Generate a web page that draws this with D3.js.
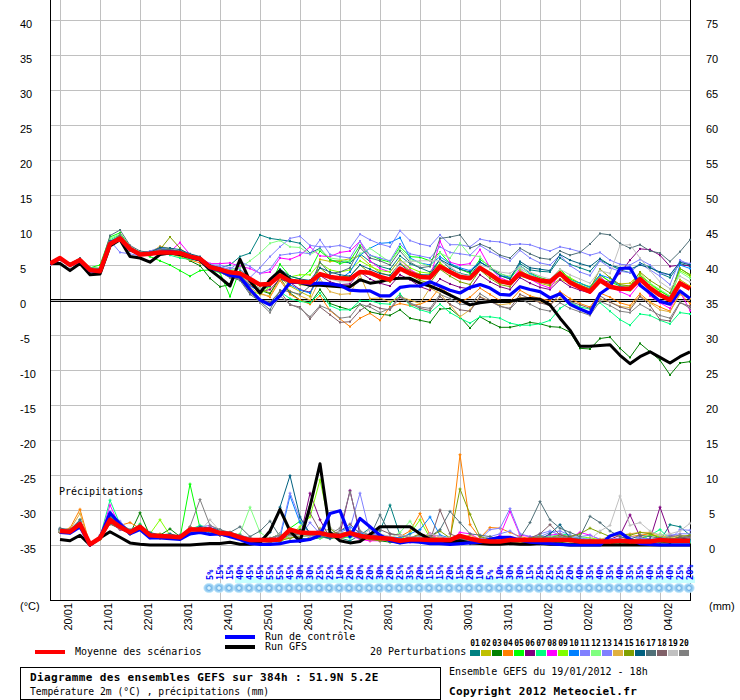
<!DOCTYPE html>
<html><head><meta charset="utf-8">
<script src="https://cdn.jsdelivr.net/npm/d3@7"></script>
<style>html,body{margin:0;padding:0;background:#fff;}svg{display:block;}</style>
</head><body>
<script>
// ---------- DATA ----------
const dayLabels = ["20/01","21/01","22/01","23/01","24/01","25/01","26/01","27/01","28/01","29/01","30/01","31/01","01/02","02/02","03/02","04/02"];
const leftTicks = [40,35,30,25,20,15,10,5,0,-5,-10,-15,-20,-25,-30,-35];
const rightTicks = [75,70,65,60,55,50,45,40,35,30,25,20,15,10,5,0];
const pertNames = ["01","02","03","04","05","06","07","08","09","10","11","12","13","14","15","16","17","18","19","20"];
const pertColors = ["#008080","#c0c000","#008000","#ff8000","#00ff00","#800080","#00ff80","#ff00ff","#80ff00","#0080ff","#8080ff","#80ff80","#8080ff","#e0b040","#80a000","#006080","#507078","#806068","#c0c0c0","#808080"];
const snowPct = [5,15,15,40,45,45,55,55,45,30,30,25,25,10,20,20,20,30,20,25,35,20,15,15,20,15,20,10,5,10,30,30,15,25,25,25,20,40,35,40,35,40,35,35,40,35,40,25,20];

// temperature 2m (°C), every 6 h from 19/01 18h (65 values)
const tempMean = [5.2,6.0,5.0,5.7, 4.3,4.1,8.0,8.8, 7.3,6.5,6.6,6.8, 6.8,6.7,6.2,5.9, 4.7,4.35,3.95,3.8, 3.0,2.2,2.3,3.5, 2.7,2.6,2.5,3.7, 3.3,3.1,3.0,4.0, 3.9,3.3,2.9,4.5, 3.8,3.3,3.2,4.8, 4.0,3.3,3.1,4.6, 3.7,2.7,2.4,3.8, 3.2,2.8,2.6,3.8, 2.5,1.8,1.2,2.8, 1.9,1.6,1.6,3.0, 1.7,0.7,0.0,2.4, 1.6];
const tempControl = [5.2,5.9,5.0,5.6, 4.2,4.1,8.1,8.7, 7.2,6.5,6.6,6.8, 6.9,6.7,6.1,5.8, 4.6,4.2,3.5,3.3, 1.5,0.0,-0.7,0.6, 2.5,2.5,2.3,2.4, 2.3,2.1,1.4,1.3, 1.3,0.6,0.6,1.8, 2.0,2.0,2.6,2.0, 1.4,1.0,1.8,2.2, 1.7,0.8,0.7,1.9, 1.5,1.2,0.3,0.9, -0.6,-1.3,-1.9,0.9, 1.9,4.5,4.6,2.1, 1.0,-0.2,-0.6,1.3, 0.2];
const tempGFS = [5.2,5.2,4.2,5.2, 3.6,3.7,7.7,8.6, 6.2,6.0,5.4,6.5, 6.7,6.5,6.1,5.7, 4.3,3.2,2.0,5.8, 2.7,1.0,2.9,4.2, 2.9,2.5,2.1,2.1, 2.0,1.9,1.9,2.9, 2.4,2.6,3.0,3.1, 3.1,2.4,2.0,1.4, 0.7,0.0,-0.7,-0.4, -0.2,-0.2,-0.2,0.1, 0.2,0.1,-0.7,-2.6, -4.3,-6.6,-6.6,-6.5, -6.4,-7.9,-9.1,-8.1, -7.4,-8.2,-9.0,-8.1, -7.4];
const tP01 = [5.3,6.0,5.1,5.8, 4.4,4.2,8.2,9.0, 7.4,6.6,6.7,7.0, 7.2,7.0,6.5,6.0, 5.0,4.6,5.0,6.2, 6.7,9.3,8.8,8.6, 8.4,8.1,6.7,7.4, 5.7,5.5,5.3,6.6, 5.5,4.8,4.4,6.3, 5.2,4.6,4.0,5.8, 4.5,3.8,3.5,5.4, 4.6,3.8,3.2,5.2, 4.3,4.1,4.0,6.0, 5.1,4.6,4.1,5.7, 5.0,4.3,3.9,5.3, 4.7,3.8,3.2,5.2, 4.8];
const tP02 = [5.1,5.9,5.0,5.6, 4.2,4.0,7.9,8.6, 7.2,6.4,6.6,7.2, 7.0,6.6,6.0,5.6, 4.6,4.2,3.8,3.9, 2.6,1.6,1.0,3.2, 2.0,1.2,0.5,5.8, 5.5,5.6,5.9,6.3, 5.0,3.9,3.5,5.3, 4.2,3.7,3.2,5.3, 3.9,3.2,3.0,4.4, 3.4,2.4,2.3,3.4, 3.0,2.4,2.0,3.0, 2.4,1.9,1.3,3.6, 2.6,2.3,2.4,3.8, 2.3,1.3,0.4,2.9, 2.0];
const tP03 = [5.2,5.9,4.9,5.7, 4.3,4.1,7.8,8.5, 7.1,6.4,6.6,6.9, 7.4,6.5,5.6,4.9, 3.1,1.9,2.2,4.2, 2.4,1.4,0.9,3.2, 1.0,0.0,-0.5,1.5, -0.5,-1.0,-1.4,-0.6, -1.7,-2.0,-2.2,-1.4, -2.6,-2.9,-3.2,-1.3, -1.2,-2.4,-4.0,-2.4, -3.2,-3.9,-3.9,-3.6, -3.2,-3.4,-3.8,-3.9, -4.6,-6.9,-7.0,-5.5, -5.3,-6.9,-8.2,-6.2, -7.4,-8.6,-10.7,-9.0, -8.8];
const tP04 = [5.3,6.1,5.2,5.9, 4.5,4.3,8.3,9.0, 7.5,6.7,6.8,7.4, 6.6,6.2,5.7,5.3, 4.5,4.0,3.4,3.6, 2.2,1.0,0.4,2.8, 0.8,0.0,-0.6,0.6, -1.5,-2.7,-3.8,-2.6, -1.9,-2.9,-1.0,-0.5, -0.8,-0.6,0.0,1.8, 0.8,-0.3,0.4,1.7, 0.8,-0.1,-0.2,1.4, 0.6,0.2,-0.1,1.2, 0.2,-0.5,-1.0,1.0, 0.4,-0.4,-0.8,0.9, -0.3,-1.0,-1.6,0.9, -0.5];
const tP05 = [5.2,6.0,5.0,5.8, 4.6,5.0,9.0,9.6, 7.6,6.8,6.2,5.6, 5.0,4.2,3.4,4.2, 4.3,3.9,0.5,4.4, 3.0,1.3,2.0,5.1, 3.4,3.0,4.2,7.0, 5.8,5.2,5.6,7.8, 6.4,5.8,5.4,7.6, 6.2,6.1,5.6,6.8, 5.2,4.4,3.8,5.8, 4.8,3.5,3.0,4.9, 3.9,3.2,2.8,4.4, 3.0,2.4,1.9,3.6, 2.6,2.0,2.0,3.5, 2.4,1.3,0.5,4.5, 3.6];
const tP06 = [5.1,5.9,4.9,5.6, 4.1,4.0,7.9,8.7, 7.3,6.4,6.5,6.7, 6.9,6.7,6.0,5.6, 4.4,4.1,3.7,3.4, 2.1,1.2,1.5,3.0, 2.5,1.5,1.1,3.5, 2.6,2.2,2.3,4.0, 3.0,2.4,2.0,3.6, 2.9,1.9,1.4,3.0, 2.3,1.8,1.6,3.6, 2.6,1.9,1.5,3.2, 2.4,1.8,1.5,2.9, 1.9,1.4,1.0,2.9, 2.5,3.8,5.7,7.3, 7.2,6.4,4.8,5.0, 4.9];
const tP07 = [5.4,6.1,5.1,5.9, 4.6,4.4,8.6,9.3, 7.5,6.8,6.9,7.0, 6.4,6.0,5.8,5.6, 4.4,4.0,3.2,3.0, 1.2,-0.2,-0.4,1.2, 0.2,-0.2,-0.4,1.0, -0.8,-1.4,-1.4,-0.1, -0.1,-0.5,-0.6,0.9, -0.8,-1.4,-1.8,-0.6, -1.8,-2.6,-3.3,-2.4, -2.4,-2.6,-3.3,-3.6, -3.6,-3.4,-2.9,-1.2, -0.3,-1.0,-1.3,-0.4, -1.6,-2.8,-3.6,-2.0, -2.2,-2.9,-3.4,-1.8, -2.0];
const tP08 = [5.3,6.0,5.0,5.7, 4.4,4.2,8.0,8.9, 7.4,6.6,6.6,7.3, 6.9,8.2,6.5,6.0, 5.2,5.2,5.3,4.8, 4.5,3.8,4.0,6.0, 5.8,6.4,7.6,6.3, 6.2,6.8,7.0,8.4, 5.6,4.5,4.0,5.8, 4.4,3.4,3.0,8.4, 5.4,5.0,5.2,7.2, 4.6,3.2,2.6,4.5, 3.0,2.2,1.7,3.8, 2.6,1.6,1.0,3.4, 2.0,1.2,0.6,2.4, 0.6,-0.4,-1.2,1.2, -1.5];
const tP09 = [5.2,6.0,5.0,5.7, 4.3,4.1,8.3,9.2, 7.5,6.7,6.7,6.9, 6.7,6.3,6.0,5.7, 4.8,4.5,4.2,4.0, 1.4,0.8,1.9,3.9, 3.3,3.6,3.6,5.3, 4.3,4.0,4.3,5.6, 4.8,4.2,4.0,5.8, 4.6,4.0,3.8,5.3, 4.2,3.6,3.2,4.6, 3.6,2.8,2.3,4.2, 3.4,3.0,2.8,4.1, 3.2,2.4,1.8,3.2, 2.0,1.4,1.3,3.4, 2.3,1.0,0.0,4.2, 3.4];
const tP10 = [5.2,6.1,5.1,5.8, 4.3,4.1,8.1,8.8, 7.4,6.6,6.9,7.4, 7.2,6.8,6.1,5.6, 4.5,4.0,3.3,3.5, 2.0,1.2,2.2,3.5, 2.2,1.4,1.0,3.4, 3.6,3.0,4.0,6.4, 7.4,8.1,8.2,8.9, 6.0,5.3,5.0,6.2, 5.2,4.6,4.2,5.5, 4.5,3.5,3.2,4.9, 3.8,3.0,2.8,3.9, 2.9,2.4,1.8,3.6, 3.1,2.0,1.6,3.2, 1.8,0.8,0.4,5.0, 4.5];
const tP11 = [5.0,5.8,4.8,5.5, 4.0,3.8,8.5,6.8, 6.6,6.3,6.4,6.7, 6.6,6.5,6.2,5.9, 5.0,5.0,4.6,4.4, 3.2,4.6,6.2,7.6, 8.8,9.1,7.8,7.6, 7.6,7.8,7.4,9.4, 8.6,8.0,7.6,9.9, 8.5,8.0,7.7,9.3, 7.9,7.9,7.6,8.7, 8.4,8.3,7.9,8.0, 7.9,7.4,7.0,7.6, 7.3,6.9,6.4,6.8, 5.7,5.1,5.0,5.8, 5.0,3.8,3.6,5.5, 5.2];
const tP12 = [5.2,6.0,5.1,5.8, 4.6,4.6,8.8,9.4, 7.6,6.8,6.6,6.9, 6.7,6.5,6.2,5.9, 4.8,4.5,4.3,4.6, 5.6,6.7,8.1,8.5, 7.6,7.5,6.5,7.2, 6.0,5.8,5.5,6.6, 7.4,6.4,5.4,7.3, 5.8,5.3,4.8,6.7, 6.0,8.1,6.4,6.2, 4.4,3.7,3.4,4.6, 3.6,3.0,2.6,3.9, 2.9,2.2,1.6,3.0, 2.2,1.6,1.3,3.2, 2.4,1.5,0.6,4.0, 3.1];
const tP13 = [5.1,5.9,4.9,5.6, 3.9,3.8,8.4,9.0, 7.6,6.7,7.0,7.5, 7.0,6.8,6.5,6.0, 5.1,4.7,4.4,5.5, 4.8,3.8,4.4,6.4, 6.6,6.8,6.6,8.6, 6.5,6.2,6.0,8.4, 6.4,6.0,5.6,8.0, 6.6,6.3,6.0,7.6, 6.8,6.6,6.4,7.8, 6.9,6.2,5.6,7.1, 6.0,5.3,5.0,6.4, 4.9,4.0,3.5,5.6, 4.6,4.1,3.9,5.2, 4.3,3.4,2.2,5.7, 5.0];
const tP14 = [5.3,6.0,5.1,5.8, 4.4,4.2,8.1,8.8, 7.3,6.5,6.7,7.7, 7.3,6.6,6.0,5.6, 4.5,4.0,3.4,3.3, 1.8,0.8,0.6,3.0, 1.3,0.6,0.0,3.0, 1.2,0.8,0.9,3.6, 0.2,0.3,-0.3,0.5, 0.0,-0.5,1.7,0.9, -0.7,-2.4,-1.4,0.5, -0.2,-0.7,-0.5,0.4, 0.1,-0.3,-0.6,0.3, -0.5,-1.3,-1.8,0.2, -0.3,-0.9,-1.1,0.6, -0.4,-1.4,-1.7,0.8, 0.2];
const tP15 = [5.2,6.0,5.0,5.7, 4.3,4.1,8.2,8.6, 7.0,6.4,6.6,7.2, 9.0,7.4,6.2,5.7, 4.6,4.1,3.6,4.0, 2.6,2.0,2.4,4.0, 2.8,2.2,2.0,4.6, 3.4,3.3,3.4,5.0, 3.8,3.0,2.6,4.6, 3.6,2.8,2.4,4.4, 3.4,2.6,2.2,4.3, 3.1,2.2,1.9,3.6, 3.2,2.6,2.2,4.0, 2.8,2.1,1.6,4.4, 3.2,2.2,2.0,4.0, 2.8,1.9,1.0,4.5, 3.6];
const tP16 = [5.3,6.1,5.0,5.8, 4.4,4.3,8.4,9.1, 7.4,6.8,6.8,7.5, 7.4,7.2,6.6,6.2, 5.0,4.6,4.0,3.8, 2.4,1.6,2.0,4.4, 3.4,3.0,2.8,4.6, 4.0,3.6,3.4,5.0, 4.4,3.8,3.5,5.2, 4.0,3.6,3.6,5.8, 5.0,4.4,4.0,5.4, 4.6,3.5,3.0,5.5, 4.6,4.4,4.2,6.5, 5.7,5.2,4.8,5.9, 5.0,4.6,4.4,5.0, 4.6,4.0,3.6,5.4, 5.0];
const tP17 = [5.4,6.1,5.2,6.0, 4.6,4.5,9.2,10.0, 7.8,7.0,6.8,7.2, 7.2,6.9,6.5,6.0, 4.9,4.2,3.3,2.8, 0.8,-0.2,-1.4,1.4, 1.2,0.8,2.0,5.4, 3.8,4.0,4.6,7.5, 6.0,5.6,5.0,7.0, 5.4,4.6,4.8,8.8, 9.0,9.3,7.4,8.0, 7.4,6.4,6.0,7.4, 6.6,6.0,5.8,7.0, 6.4,6.8,8.0,9.5, 9.3,8.1,7.4,7.9, 7.0,6.7,5.5,6.9, 8.6];
const tP18 = [5.2,5.9,5.0,5.6, 4.0,3.9,7.8,8.6, 7.2,6.4,6.5,6.9, 6.8,6.6,6.0,5.6, 4.4,4.0,3.2,3.0, 1.0,0.0,-0.3,1.2, -0.7,-1.0,-2.7,-1.0, -2.1,-3.2,-3.1,-1.5, -0.6,-1.2,-1.4,0.4, -0.5,-1.2,-1.5,0.5, -0.6,-1.4,-1.6,0.4, -0.2,-0.9,-1.2,0.8, 0.2,-0.4,-0.8,0.9, -0.2,-0.7,-1.2,0.6, -0.3,-1.0,-1.4,0.5, -0.8,-2.8,-3.0,-0.4, -0.9];
const tP19 = [5.3,6.0,5.1,5.8, 4.5,4.3,8.2,8.9, 7.3,6.6,6.7,7.0, 6.9,6.7,6.2,5.8, 4.8,4.4,3.9,3.7, 2.4,1.6,2.2,3.6, 2.6,2.4,2.4,3.8, 3.0,2.6,2.6,4.0, 3.6,3.1,3.2,5.4, 5.5,5.6,5.6,5.6, 4.8,3.7,3.4,5.0, 4.6,4.0,3.8,4.8, 4.0,3.4,3.0,4.4, 3.6,3.0,2.4,4.2, 3.8,7.8,7.9,6.0, 4.2,2.6,1.6,3.4, 2.6];
const tP20 = [5.2,5.9,5.1,5.7, 4.3,4.1,8.1,9.4, 7.6,6.8,6.7,7.1, 7.0,6.8,6.3,5.9, 4.6,4.2,3.6,3.2, 1.4,-0.4,-1.8,0.6, -0.6,-1.2,-2.4,-0.8, -1.4,-2.6,-2.4,-0.6, -1.0,-1.8,-1.2,0.6, -0.4,-1.0,-1.2,0.8, 0.2,-0.6,-0.7,0.9, 0.0,-0.9,-1.3,0.2, -0.6,-1.3,-1.6,-0.4, -1.2,-1.7,-2.2,-0.2, -0.8,-1.6,-1.8,-0.6, -1.4,-2.2,-2.6,-0.3, -1.2];

// precipitation (mm / 6 h), from 20/01 00h (64 values)
const precMean = [2.0,1.9,3.0,0.1, 1.0,3.6,2.6,1.8, 2.6,1.4,1.3,1.2, 1.1,2.2,2.2,2.2, 1.7,1.6,1.1,0.7, 0.7,0.7,0.8,2.2, 1.8,1.7,1.7,1.4, 1.3,1.7,1.3,1.1, 1.0,0.9,0.6,0.8, 0.8,0.7,0.7,0.7, 1.3,0.9,0.6,0.5, 0.5,0.7,0.7,0.7, 0.7,0.7,0.7,0.7, 0.5,0.5,0.5,0.5, 0.6,0.5,0.5,0.5, 0.7,0.6,0.6,0.6];
const precControl = [1.8,1.7,2.6,0.0, 1.0,4.6,3.0,1.6, 2.2,1.0,1.0,0.9, 0.8,1.6,1.8,1.5, 1.6,1.2,0.8,0.2, 0.1,0.1,0.2,0.5, 0.6,0.8,1.4,4.5, 4.9,1.2,3.8,2.6, 1.4,0.6,0.3,0.5, 0.4,0.2,0.2,0.1, 0.2,0.3,0.4,0.8, 1.1,1.1,0.7,0.4, 0.3,0.2,0.1,0.0, 0.0,0.0,0.0,1.3, 1.8,0.8,0.2,0.1, 0.0,0.0,0.0,0.0];
const precGFS = [0.8,0.6,1.4,0.0, 1.0,1.9,1.1,0.3, 0.1,0.0,0.0,0.0, 0.0,0.0,0.1,0.2, 0.2,0.4,0.1,0.1, 0.3,2.0,5.1,2.0, 0.5,5.5,11.6,1.8, 0.6,0.3,0.5,1.5, 2.6,2.6,2.6,2.6, 1.6,0.8,0.6,0.4, 0.6,0.3,0.2,0.1, 0.1,0.2,0.1,0.1, 0.2,0.1,0.1,0.0, 0.0,0.0,0.0,0.0, 0.0,0.0,0.0,0.0, 0.0,0.0,0.0,0.0];
const pP01 = [2.2,2.0,3.6,0.0, 1.2,4.2,2.8,1.6, 2.8,1.2,1.0,1.0, 1.0,2.5,2.0,2.4, 1.8,1.4,1.0,0.6, 0.6,0.5,1.6,1.2, 1.0,0.8,1.0,1.2, 1.0,0.6,1.4,2.4, 2.0,5.7,1.4,1.0, 0.6,0.8,0.4,0.6, 0.6,0.4,0.3,0.4, 0.3,0.4,0.6,0.5, 0.6,0.8,1.2,0.6, 0.4,0.5,0.6,0.4, 0.4,0.6,0.6,0.8, 0.6,2.9,2.6,1.4];
const pP02 = [1.9,1.8,3.2,0.0, 1.0,3.4,2.4,1.9, 2.5,1.5,1.6,1.2, 1.0,1.8,1.9,2.0, 1.6,1.8,1.2,0.8, 0.6,0.8,0.4,1.8, 1.6,1.0,2.4,1.2, 0.8,1.4,1.0,0.8, 0.8,0.6,0.5,0.8, 1.0,1.2,0.6,0.4, 0.6,0.5,0.4,0.3, 0.4,0.8,0.6,0.6, 0.8,0.6,0.8,0.6, 0.4,0.4,0.5,0.8, 0.8,0.6,0.5,0.6, 0.5,0.4,0.6,0.5];
const pP03 = [2.1,2.0,2.8,0.0, 0.9,3.3,2.4,1.6, 4.6,1.3,1.4,2.3, 1.2,1.9,2.2,1.8, 1.4,1.2,0.9,0.4, 0.4,0.9,1.6,1.0, 2.2,1.6,1.2,0.9, 1.2,2.0,1.6,0.8, 0.6,0.4,0.3,0.6, 0.4,0.3,0.2,0.4, 0.3,0.2,0.4,0.3, 0.2,0.3,0.4,0.3, 0.6,0.3,0.4,0.2, 0.2,0.3,0.2,0.2, 0.3,0.2,0.3,0.4, 0.4,0.3,0.8,0.5];
const pP04 = [2.0,2.4,5.1,0.0, 1.2,3.5,2.8,3.2, 2.4,1.2,1.0,1.3, 0.9,2.6,2.1,2.0, 1.8,1.4,0.9,0.4, 0.5,0.4,1.2,1.4, 1.6,1.2,1.4,1.0, 1.6,2.0,1.0,0.6, 0.8,0.6,1.2,2.0, 4.5,1.4,0.8,0.5, 12.9,2.9,1.0,2.5, 2.4,1.8,1.2,0.9, 1.0,0.6,0.8,0.6, 0.5,0.6,0.4,0.5, 0.6,1.2,1.4,1.6, 1.2,0.8,0.6,0.4];
const pP05 = [1.8,1.9,3.0,0.0, 0.8,4.4,2.6,1.8, 3.0,1.6,1.4,1.2, 1.0,8.7,2.4,2.2, 1.6,1.2,1.4,0.6, 0.8,0.6,0.8,2.4, 3.4,1.6,1.0,1.2, 1.0,1.2,1.6,1.2, 1.4,1.0,0.6,0.6, 0.8,0.6,0.8,0.6, 0.8,0.6,0.5,0.4, 0.6,0.5,0.4,0.6, 1.0,1.2,1.0,0.8, 0.6,0.6,0.5,0.6, 0.8,0.4,0.6,0.8, 0.6,0.6,0.8,0.6];
const pP06 = [1.9,1.7,2.8,0.0, 1.0,3.2,2.2,1.8, 2.4,1.4,1.2,1.0, 1.2,1.8,2.0,2.2, 1.4,1.6,1.0,0.8, 0.6,0.5,0.6,1.6, 1.0,7.4,3.6,1.0, 1.6,7.8,1.4,1.2, 1.0,1.2,0.8,0.8, 1.0,1.6,1.2,0.8, 0.6,0.6,0.4,0.8, 0.6,0.4,0.4,0.6, 0.8,1.2,0.8,0.6, 0.5,0.6,0.6,0.8, 1.4,4.3,1.2,0.8, 5.4,1.4,1.0,0.8];
const pP07 = [2.0,1.9,3.4,0.0, 1.1,6.4,3.0,1.6, 2.9,1.6,1.2,1.2, 1.0,2.2,2.8,2.4, 1.6,1.4,1.0,0.6, 0.6,0.8,0.6,1.6, 1.4,1.2,1.6,1.8, 1.4,1.0,1.6,1.4, 0.8,0.6,0.4,0.6, 0.6,0.8,0.6,0.4, 0.6,0.8,0.4,0.6, 0.4,0.6,0.8,0.6, 1.4,1.0,1.6,1.4, 0.8,0.6,0.4,0.6, 0.6,0.8,0.6,1.4, 2.2,0.8,0.6,0.4];
const pP08 = [1.8,2.0,3.2,0.0, 0.9,5.7,2.6,1.8, 2.4,1.0,1.2,1.4, 1.0,2.4,2.2,2.6, 1.8,1.4,1.2,0.8, 0.6,0.4,0.8,1.2, 1.4,1.2,1.6,1.4, 1.0,1.4,0.8,0.6, 0.6,0.8,0.4,0.4, 1.0,1.6,0.8,0.6, 1.8,1.6,0.8,0.6, 1.4,4.8,1.4,1.2, 1.0,1.4,1.6,1.0, 1.8,1.4,0.8,0.6, 0.6,0.4,0.6,0.8, 0.6,0.6,0.8,0.6];
const pP09 = [2.0,1.8,3.0,0.0, 1.0,3.8,2.5,2.0, 2.6,1.6,3.6,1.4, 1.2,2.0,1.8,2.4, 1.8,1.6,1.0,0.8, 0.6,0.8,0.4,1.4, 2.6,4.0,9.3,2.4, 1.2,1.6,1.4,1.0, 1.2,1.0,0.8,1.6, 3.6,1.0,0.8,1.0, 0.8,0.6,0.6,0.4, 0.6,0.8,0.6,0.8, 1.2,0.8,1.0,0.8, 1.2,1.0,0.8,0.6, 0.8,0.6,1.0,1.4, 1.2,0.8,0.6,0.6];
const pP10 = [2.1,2.0,2.9,0.0, 1.0,3.4,2.6,1.7, 2.8,1.4,1.2,1.4, 1.2,2.0,2.2,1.8, 2.0,1.6,1.2,0.6, 0.6,0.8,1.0,7.0, 3.2,1.8,1.2,1.0, 2.0,2.6,1.8,1.4, 1.4,1.2,1.0,1.6, 2.2,4.0,1.4,1.0, 1.2,0.8,0.6,0.5, 0.4,0.4,0.6,0.8, 1.0,1.2,1.4,0.8, 0.6,0.4,0.5,0.4, 0.6,0.5,0.4,0.4, 0.5,0.6,0.8,0.6];
const pP11 = [1.9,2.1,3.4,0.0, 1.4,4.8,2.8,1.8, 2.6,1.6,1.4,1.2, 1.4,2.2,2.6,2.0, 1.6,1.8,1.4,1.0, 0.6,0.8,1.4,7.4, 3.8,1.6,2.2,1.4, 1.8,2.4,7.4,1.6, 1.4,1.0,0.8,1.0, 1.2,1.0,0.8,0.6, 0.8,0.6,0.8,2.2, 2.4,5.2,1.6,1.2, 1.2,1.8,2.0,1.4, 1.2,1.4,0.8,0.6, 0.8,0.6,1.0,0.8, 0.6,0.8,2.2,2.1];
const pP12 = [2.0,1.8,3.0,0.0, 1.0,3.6,2.6,1.8, 2.4,1.4,1.2,1.0, 1.2,2.0,2.4,2.2, 1.8,1.4,1.6,5.4, 1.8,0.8,0.6,1.2, 1.4,1.2,1.0,1.2, 1.4,1.6,1.2,1.0, 0.8,1.0,1.8,3.4, 1.2,0.8,0.6,0.8, 0.6,0.4,0.6,0.4, 0.6,0.6,0.8,0.6, 1.0,1.2,1.4,1.0, 1.2,0.8,0.6,0.4, 0.6,0.8,0.6,0.6, 1.6,1.2,0.6,0.8];
const pP13 = [2.2,2.2,3.2,0.0, 1.2,4.4,3.4,2.0, 2.2,1.6,1.2,1.2, 1.4,1.8,2.6,2.8, 2.0,1.6,1.2,0.8, 0.8,0.6,0.8,1.8, 1.2,3.2,1.6,1.0, 1.4,1.8,1.8,0.8, 1.0,0.8,0.6,0.8, 1.0,1.2,1.0,0.8, 1.0,0.6,0.8,1.2, 1.6,2.0,1.0,0.8, 1.6,2.0,1.4,1.2, 1.0,0.8,0.6,0.8, 1.0,1.2,1.0,0.8, 1.0,1.4,1.6,1.6];
const pP14 = [2.0,2.2,4.5,0.0, 1.2,3.2,2.4,2.0, 2.6,1.4,1.2,1.0, 1.0,1.8,2.0,2.0, 1.8,1.4,1.2,0.6, 0.5,0.4,0.8,1.0, 1.4,1.6,1.2,1.6, 1.8,1.4,1.2,1.0, 0.8,0.6,0.6,0.8, 1.6,1.2,1.0,0.8, 1.0,1.4,0.8,0.6, 0.6,0.4,0.4,0.6, 0.6,0.4,0.6,0.4, 0.4,0.6,0.8,1.2, 1.4,1.6,1.8,1.8, 1.4,1.0,1.4,1.2];
const pP15 = [1.8,1.8,3.0,0.0, 0.9,3.0,2.4,1.6, 2.4,1.2,1.2,1.0, 1.0,1.6,1.8,2.0, 1.6,1.4,1.0,0.6, 0.6,0.4,0.6,1.0, 1.2,1.4,1.6,2.4, 1.2,1.6,1.0,0.8, 0.6,1.0,0.8,1.0, 1.6,1.2,2.0,1.0, 8.0,4.4,1.2,0.8, 0.6,0.8,0.8,1.0, 1.2,1.0,1.4,1.2, 1.6,2.4,1.8,1.2, 1.6,1.4,1.8,1.6, 1.0,0.8,1.2,1.4];
const pP16 = [2.3,2.1,3.3,0.0, 1.1,3.8,3.0,2.0, 2.7,1.8,1.4,1.6, 1.2,2.0,2.6,2.4, 2.2,1.6,1.4,0.8, 0.8,1.8,5.4,9.9, 4.0,1.6,1.2,1.0, 1.8,1.4,1.0,1.4, 1.2,0.8,0.6,1.0, 0.8,1.2,0.6,0.8, 0.8,0.6,0.6,0.4, 0.4,0.6,0.8,0.6, 0.8,1.6,2.9,1.0, 0.8,0.6,0.5,0.4, 0.6,0.8,0.6,0.8, 0.6,0.8,1.0,0.8];
const pP17 = [2.4,2.2,3.6,0.0, 1.3,4.0,3.0,2.2, 2.8,1.6,1.4,1.2, 1.4,2.2,2.4,2.2, 2.0,1.8,2.6,1.2, 2.0,3.4,1.2,1.4, 1.6,1.4,1.8,1.6, 1.4,1.8,1.4,1.2, 4.3,1.6,1.4,1.2, 1.0,1.2,2.2,4.8, 3.2,1.6,1.4,1.2, 0.8,0.6,1.0,3.2, 6.2,3.6,2.4,1.8, 1.2,4.1,3.2,2.0, 1.2,0.8,1.4,1.2, 1.0,0.8,1.0,1.2];
const pP18 = [1.9,1.8,2.8,0.0, 1.0,3.0,2.3,1.6, 2.2,1.2,1.0,1.0, 1.0,1.6,1.8,1.6, 1.4,1.2,1.0,0.6, 0.6,0.4,1.2,1.6, 1.4,4.6,2.0,1.4, 2.0,3.0,1.6,1.2, 2.2,1.6,1.4,1.0, 0.8,0.6,5.0,1.6, 1.0,0.8,0.6,0.4, 0.4,0.6,0.8,1.0, 1.6,2.9,1.4,1.0, 0.8,0.6,0.6,0.6, 0.8,0.6,0.8,0.6, 0.6,0.8,1.0,1.2];
const pP19 = [2.0,1.9,3.2,0.0, 1.0,3.4,2.4,1.8, 2.4,1.4,1.4,1.2, 1.0,1.8,2.0,3.6, 2.0,1.4,1.2,0.8, 0.6,0.8,1.6,1.2, 1.4,1.2,1.4,2.4, 1.8,1.4,1.2,2.2, 1.6,1.2,1.4,1.2, 1.0,1.6,1.2,1.0, 1.2,1.0,0.8,0.6, 0.6,0.8,1.0,0.8, 0.8,1.0,1.2,0.8, 0.6,0.8,2.0,2.8, 7.0,2.8,3.2,2.0, 1.4,1.6,2.0,3.1];
const pP20 = [2.2,2.0,3.2,0.0, 1.1,3.6,2.8,2.0, 2.6,1.4,1.2,1.4, 1.2,2.6,6.5,2.8, 2.2,1.8,1.4,1.0, 0.8,1.0,1.4,1.8, 1.6,1.4,1.2,1.6, 2.4,7.6,2.0,1.4, 1.2,1.0,0.8,1.0, 1.4,1.2,0.8,0.6, 0.8,0.6,0.8,0.6, 0.6,0.8,1.0,0.8, 1.2,1.0,1.2,0.8, 0.6,0.8,0.6,0.4, 0.6,0.8,0.8,0.6, 0.8,1.2,1.4,1.0];

const tempPerts = [tP01,tP02,tP03,tP04,tP05,tP06,tP07,tP08,tP09,tP10,tP11,tP12,tP13,tP14,tP15,tP16,tP17,tP18,tP19,tP20];
const precPerts = [pP01,pP02,pP03,pP04,pP05,pP06,pP07,pP08,pP09,pP10,pP11,pP12,pP13,pP14,pP15,pP16,pP17,pP18,pP19,pP20];

// ---------- CHART ----------
const W = 740, H = 700;
const sans = "'Liberation Sans', Arial, sans-serif";
const mono = "'DejaVu Sans Mono', monospace";
const svg = d3.select("body").append("svg").attr("width", W).attr("height", H);
svg.append("rect").attr("width", W).attr("height", H).attr("fill", "#fff");

const x = d3.scaleLinear().domain([0, 384]).range([50, 690]);
const yT = d3.scaleLinear().domain([-35, 40]).range([545, 20]);
const yP = d3.scaleLinear().domain([0, 75]).range([545, 20]);
const tHour = i => i * 6;          // temperature steps
const pHour = i => (i + 1) * 6;    // precipitation steps
const dayHour = i => 6 + 24 * i;   // 00h of each day

// grid
const grid = svg.append("g").attr("shape-rendering", "crispEdges").attr("stroke", "#c0c0c0");
grid.selectAll("line.v").data(dayLabels).join("line")
  .attr("x1", (d, i) => Math.round(x(dayHour(i))) + 0.5).attr("x2", (d, i) => Math.round(x(dayHour(i))) + 0.5)
  .attr("y1", 0).attr("y2", 600);
grid.selectAll("line.h").data(leftTicks).join("line")
  .attr("x1", 50).attr("x2", 690)
  .attr("y1", d => Math.round(yT(d)) + 0.5).attr("y2", d => Math.round(yT(d)) + 0.5);

// zero double line
const z = Math.round(yT(0));
[z - 1, z + 1].forEach(yy => svg.append("line").attr("x1", 50).attr("x2", 690)
  .attr("y1", yy + 0.5).attr("y2", yy + 0.5).attr("stroke", "#000").attr("shape-rendering", "crispEdges"));

// frame
const frame = svg.append("g").attr("stroke", "#000").attr("shape-rendering", "crispEdges");
frame.append("line").attr("x1", 50.5).attr("x2", 50.5).attr("y1", 0).attr("y2", 601);
frame.append("line").attr("x1", 690.5).attr("x2", 690.5).attr("y1", 0).attr("y2", 601);
frame.append("line").attr("x1", 50).attr("x2", 691).attr("y1", 600.5).attr("y2", 600.5);

// axis labels
svg.append("g").selectAll("text").data(leftTicks).join("text")
  .attr("x", 20).attr("y", d => yT(d) + 8).text(d => d)
  .attr("font-family", sans).attr("font-size", 11).attr("fill", "#000");
svg.append("g").selectAll("text").data(rightTicks).join("text")
  .attr("x", 712).attr("y", d => yP(d) + 8).attr("text-anchor", "middle").text(d => d)
  .attr("font-family", sans).attr("font-size", 11).attr("fill", "#000");
svg.append("g").selectAll("text").data(dayLabels).join("text")
  .attr("transform", (d, i) => `translate(${x(dayHour(i)) + 12},603) rotate(-90)`)
  .attr("text-anchor", "end").text(d => d)
  .attr("font-family", sans).attr("font-size", 11).attr("fill", "#000");
svg.append("text").attr("x", 20).attr("y", 610).text("(°C)").attr("font-family", sans).attr("font-size", 11);
svg.append("text").attr("x", 709).attr("y", 610).text("(mm)").attr("font-family", sans).attr("font-size", 11);
svg.append("text").attr("x", 59).attr("y", 495).text("Précipitations").attr("font-family", mono).attr("font-size", 10);

// snow strip
const snowStart = 16;
svg.append("rect").attr("x", x(tHour(snowStart + 3)) - 5).attr("y", 577)
  .attr("width", 695 - (x(tHour(snowStart + 3)) - 5)).attr("height", 6).attr("fill", "#c8ffff");
const flakes = svg.append("g");
snowPct.forEach((p, k) => {
  const cx = x(tHour(snowStart + k)) - 1;
  flakes.append("ellipse").attr("cx", cx).attr("cy", 588).attr("rx", 5.2).attr("ry", 4.6)
    .attr("fill", "#9ccff3").attr("stroke", "#bfe8fb").attr("stroke-width", 0.8);
  flakes.append("circle").attr("cx", cx).attr("cy", 588).attr("r", 1.5).attr("fill", "#d9f1ff");
  [[-2.7,0],[2.7,0],[0,-2.5],[0,2.5],[-1.9,-1.8],[1.9,1.8],[1.9,-1.8],[-1.9,1.8]].forEach(o => flakes.append("rect")
    .attr("x", cx + o[0] - 0.5).attr("y", 588 + o[1] - 0.5).attr("width", 1).attr("height", 1).attr("fill", "#4f9fdc"));
});
svg.append("g").selectAll("text").data(snowPct).join("text")
  .attr("transform", (d, k) => `translate(${x(tHour(snowStart + k)) + 2.5},580) rotate(-90)`)
  .text(d => d + "%").attr("font-family", mono).attr("font-weight", "bold")
  .attr("font-size", 8.6).attr("fill", "#0000ff");

// lines
const clip = svg.append("defs").append("clipPath").attr("id", "plot");
clip.append("rect").attr("x", 50).attr("y", 0).attr("width", 641).attr("height", 600);
const plot = svg.append("g").attr("clip-path", "url(#plot)");
const tLine = d3.line().x((d, i) => x(tHour(i))).y(d => yT(d));
const pLine = d3.line().x((d, i) => x(pHour(i))).y(d => yP(d));

// precipitation perturbations
precPerts.forEach((arr, s) => {
  const g = plot.append("g");
  g.append("path").attr("d", pLine(arr)).attr("fill", "none").attr("stroke", pertColors[s]).attr("stroke-width", 1);
  g.selectAll("path.m").data(arr).join("path")
    .attr("d", (d, i) => { const px = x(pHour(i)), py = yP(d); return `M${px-1.5},${py}H${px+1.5}M${px},${py-1.5}V${py+1.5}`; })
    .attr("stroke", pertColors[s]).attr("stroke-width", 1).attr("fill", "none");
});
// temperature perturbations
tempPerts.forEach((arr, s) => {
  const g = plot.append("g");
  g.append("path").attr("d", tLine(arr)).attr("fill", "none").attr("stroke", pertColors[s]).attr("stroke-width", 1);
  g.selectAll("rect").data(arr).join("rect")
    .attr("x", (d, i) => x(tHour(i)) - 1).attr("y", d => yT(d) - 1).attr("width", 2).attr("height", 2)
    .attr("fill", pertColors[s]);
});
// GFS, control, mean
[[precGFS, pLine, "#000", 3], [tempGFS, tLine, "#000", 3],
 [precControl, pLine, "#0000ff", 3.2], [tempControl, tLine, "#0000ff", 3.2],
 [precMean, pLine, "#ff0000", 4.5], [tempMean, tLine, "#ff0000", 4.5]].forEach(([arr, fn, col, w]) => {
  plot.append("path").attr("d", fn(arr)).attr("fill", "none").attr("stroke", col)
    .attr("stroke-width", w).attr("stroke-linejoin", "round");
});

// legend
const leg = svg.append("g");
leg.append("line").attr("x1", 35).attr("x2", 65).attr("y1", 652).attr("y2", 652).attr("stroke", "#ff0000").attr("stroke-width", 4);
leg.append("text").attr("x", 75).attr("y", 655).text("Moyenne des scénarios").attr("font-family", mono).attr("font-size", 10);
leg.append("line").attr("x1", 225).attr("x2", 255).attr("y1", 637).attr("y2", 637).attr("stroke", "#0000ff").attr("stroke-width", 4);
leg.append("text").attr("x", 265).attr("y", 640).text("Run de contrôle").attr("font-family", mono).attr("font-size", 10);
leg.append("line").attr("x1", 225).attr("x2", 255).attr("y1", 647).attr("y2", 647).attr("stroke", "#000").attr("stroke-width", 4);
leg.append("text").attr("x", 265).attr("y", 650).text("Run GFS").attr("font-family", mono).attr("font-size", 10);
leg.append("text").attr("x", 370).attr("y", 655).text("20 Perturbations").attr("font-family", mono).attr("font-size", 10);
leg.selectAll("rect.sw").data(pertNames).join("rect")
  .attr("x", (d, i) => 470 + 11 * i).attr("y", 650).attr("width", 10).attr("height", 6)
  .attr("fill", (d, i) => pertColors[i]);
leg.selectAll("text.sw").data(pertNames).join("text")
  .attr("x", (d, i) => 475 + 11 * i).attr("y", 646).attr("text-anchor", "middle").text(d => d)
  .attr("font-family", mono).attr("font-weight", "bold").attr("font-size", 8);

// title box
svg.append("rect").attr("x", 20.5).attr("y", 667.5).attr("width", 420).attr("height", 32)
  .attr("fill", "none").attr("stroke", "#000").attr("shape-rendering", "crispEdges");
svg.append("text").attr("x", 30).attr("y", 681).text("Diagramme des ensembles GEFS sur 384h : 51.9N 5.2E")
  .attr("font-family", mono).attr("font-weight", "bold").attr("font-size", 11).attr("letter-spacing", 0.35);
svg.append("text").attr("x", 30).attr("y", 695).text("Température 2m (°C) , précipitations (mm)")
  .attr("font-family", mono).attr("font-size", 9.7);
svg.append("text").attr("x", 449).attr("y", 675).text("Ensemble GEFS du 19/01/2012 - 18h")
  .attr("font-family", mono).attr("font-size", 10);
svg.append("text").attr("x", 449).attr("y", 695).text("Copyright 2012 Meteociel.fr")
  .attr("font-family", mono).attr("font-weight", "bold").attr("font-size", 11).attr("letter-spacing", 0.35);
</script>
</body></html>
